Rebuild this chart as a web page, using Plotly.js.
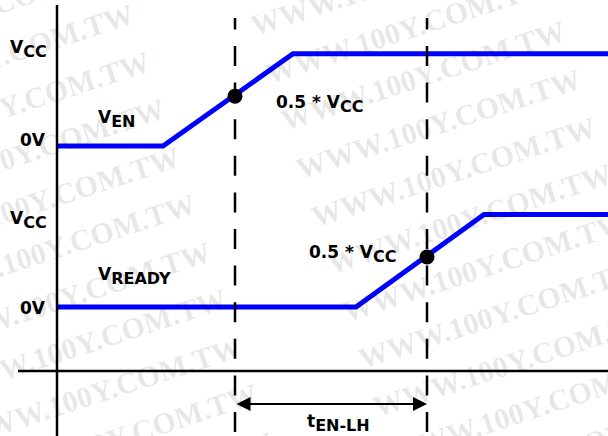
<!DOCTYPE html>
<html>
<head>
<meta charset="utf-8">
<script src="https://cdn.plot.ly/plotly-3.0.1.min.js"></script>
<style>html,body{margin:0;padding:0;background:#fff;}#chart{width:608px;height:436px;}</style>
</head>
<body>
<div id="chart"></div>
<script>
// ---- data (time in arbitrary units, level as fraction of Vcc) ----
const signalNames = ["V<sub>EN</sub>", "V<sub>READY</sub>"];
const tEN = [0, 10.6, 23.6, 56];
const vEN = [0, 0, 1, 1];
const tREADY = [0, 29.9, 42.7, 56];
const vREADY = [0, 0, 1, 1];
const tCross = [17.8, 37.0];
const vCross = [0.54, 0.54];
const levelLabels = ["V<sub>CC</sub>", "0V"];
const crossLabel = "0.5 * V<sub>CC</sub>";
const delayLabel = "t<sub>EN-LH</sub>";
const watermarkText = "WWW.100Y.COM.TW";

// ---- layout helpers ----
const W = 608, H = 436;
const EN_OFF = 1.74, READY_OFF = 0;
const px = x => x / W;
const py = y => 1 - y / H;
const subFix = s => s.replace(/<sub>(.*?)<\/sub>/g, '<sub><span style="font-size:16px">$1</span></sub>');

const traces = [
  {x: tEN, y: vEN.map(v => v + EN_OFF), mode: 'lines', line: {color: '#0000ff', width: 5}, hoverinfo: 'skip'},
  {x: tREADY, y: vREADY.map(v => v + READY_OFF), mode: 'lines', line: {color: '#0000ff', width: 5}, hoverinfo: 'skip'},
  {x: tCross, y: [vCross[0] + EN_OFF, vCross[1] + READY_OFF], mode: 'markers',
   marker: {color: '#000', size: 15}, hoverinfo: 'skip'}
];

const shapes = [
  // vertical axis
  {type: 'line', xref: 'x', yref: 'paper', x0: 0, x1: 0, y0: 0, y1: py(5), line: {color: '#000', width: 2.5}},
  // horizontal time axis
  {type: 'line', xref: 'paper', yref: 'paper', x0: px(18), x1: 1, y0: py(371), y1: py(371), line: {color: '#000', width: 2.5}},
];
tCross.forEach(t => shapes.push({type: 'line', xref: 'x', yref: 'paper', x0: t, x1: t, y0: py(432), y1: py(18),
  line: {color: '#000', width: 2.5, dash: '20px,16.6px'}}));

const annotations = [];
// watermark grid
const th = 18 * Math.PI / 180, P = 405, D = 50;
for (let i = -1; i <= 2; i++) {
  for (let k = -5; k <= 10; k++) {
    const cx = 7 + i * P * Math.cos(th) + k * D * Math.sin(th);
    const cy = 106 - i * P * Math.sin(th) + k * D * Math.cos(th);
    if (cx < -200 || cx > 820 || cy < -80 || cy > 520) continue;
    annotations.push({xref: 'paper', yref: 'paper', x: px(cx), y: py(cy), xanchor: 'center', yanchor: 'middle',
      text: watermarkText, showarrow: false, textangle: -18,
      font: {family: 'Liberation Serif', size: 30, weight: 'bold', color: 'rgba(0,0,0,0.10)'}});
  }
}
const lab = (text, x, y, xa) => annotations.push({xref: 'paper', yref: 'paper', x: px(x), y: py(y),
  xanchor: xa, yanchor: 'middle', text: subFix(text), showarrow: false,
  font: {family: 'DejaVu Sans', size: 17, weight: 'bold', color: '#000'}});
lab(levelLabels[0], 8, 49, 'left');
lab(levelLabels[1], 32.5, 139.5, 'center');
lab(signalNames[0], 96, 119, 'left');
lab(crossLabel, 274, 104, 'left');
lab(levelLabels[0], 8, 219.5, 'left');
lab(levelLabels[1], 32.5, 308, 'center');
lab(signalNames[1], 96, 276, 'left');
lab(crossLabel, 307, 254, 'left');
lab(delayLabel, 338, 423, 'center');
// delay arrow between the crossing times
annotations.push({xref: 'x', yref: 'paper', x: tCross[1], y: py(404), axref: 'x', ax: tCross[0], ayref: 'pixel', ay: 0,
  text: '', showarrow: true, arrowside: 'end+start', arrowhead: 2, startarrowhead: 2,
  arrowsize: 1.4, startarrowsize: 1.4, arrowwidth: 2, arrowcolor: '#000', standoff: 0, startstandoff: 0});

const layout = {
  width: W, height: H, margin: {l: 0, r: 0, t: 0, b: 0},
  paper_bgcolor: '#fff', plot_bgcolor: '#fff', showlegend: false,
  xaxis: {visible: false, range: [-5.7, 55.1], fixedrange: true},
  yaxis: {visible: false, range: [-1.395, 3.32], fixedrange: true},
  shapes: shapes, annotations: annotations
};
Plotly.newPlot('chart', traces, layout, {staticPlot: true, displayModeBar: false});
</script>
</body>
</html>
